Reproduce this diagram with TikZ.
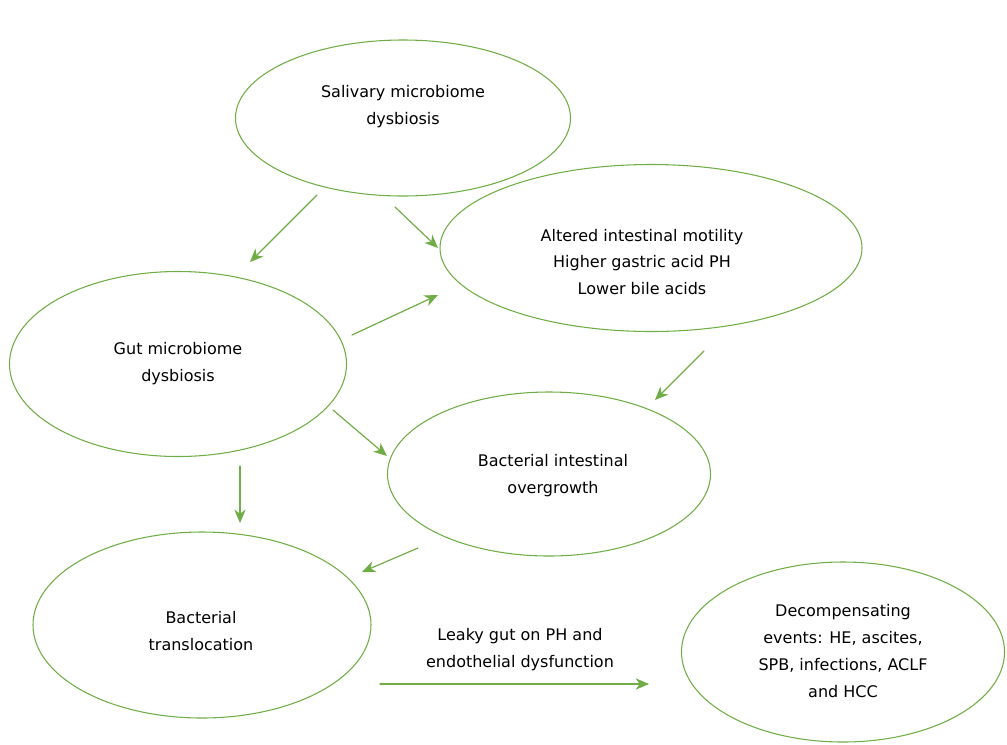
\documentclass[tikz,border=0pt]{standalone}
\usepackage{fontspec}
\setmainfont{DejaVu Sans}
\usetikzlibrary{arrows.meta,shapes.geometric}

\definecolor{leafgreen}{HTML}{70AD47}

\tikzset{
	blob/.style 2 args={draw=leafgreen, line width=.8pt, ellipse, inner sep=0pt,
		minimum width=#1*0.75pt, minimum height=#2*0.75pt},
	txt/.style={align=center, font=\fontsize{12}{20.2}\selectfont, inner sep=0pt},
	flow/.style={-{Stealth[length=10pt,width=8.5pt,inset=3pt]}, draw=leafgreen, line width=.9pt}
}

\begin{document}
\begin{tikzpicture}[x=0.75pt, y=-0.75pt, line cap=round]
	% -------- Frame (pixel grid of the original) --------
	\useasboundingbox (0,0) rectangle (1007,744);
	
	% Ellipses
	\node[blob={335}{156}] (saliva) at (403,118) {};
	\node[blob={422}{167}] (motility) at (651,248) {};
	\node[blob={337}{185}] (gut) at (178,364) {};
	\node[blob={323}{164}] (overgrowth) at (549,474) {};
	\node[blob={338}{186}] (transloc) at (202,625) {};
	\node[blob={323}{180}] (events) at (843,652) {};
	
	% Texts
	\node[txt] (salivaT) at (403,107) {Salivary microbiome\\dysbiosis};
	\node[txt] (motilityT) at (642,262) {Altered intestinal motility\\Higher gastric acid PH\\Lower bile acids};
	\node[txt] (gutT) at (178,364) {Gut microbiome\\dysbiosis};
	\node[txt] (overgrowthT) at (553,476) {Bacterial intestinal\\overgrowth};
	\node[txt] (translocT) at (201,631) {Bacterial\\translocation};
	\node[txt] (eventsT) at (843,651) {Decompensating\\events: HE, ascites,\\SPB, infections, ACLF\\and HCC};
	\node[txt] (leakyT) at (520,650) {Leaky gut on PH and\\endothelial dysfunction};
	
	% -------- Arrow ends (they stop short of the ellipses) --------
	\coordinate (a1) at (317,195); \coordinate (b1) at (250,262);
	\coordinate (a2) at (395,207); \coordinate (b2) at (438,248);
	\coordinate (a3) at (352,335); \coordinate (b3) at (438,295);
	\coordinate (a4) at (333,410); \coordinate (b4) at (387,456);
	\coordinate (a5) at (240,466); \coordinate (b5) at (240,523);
	\coordinate (a6) at (704,351); \coordinate (b6) at (655,400);
	\coordinate (a7) at (418,548); \coordinate (b7) at (362,572);
	\coordinate (a8) at (380,684); \coordinate (b8) at (649,684);
	
	\foreach \k in {1,...,8}{
		\draw[flow] (a\k) -- (b\k);
	}
	
\end{tikzpicture}
\end{document}
